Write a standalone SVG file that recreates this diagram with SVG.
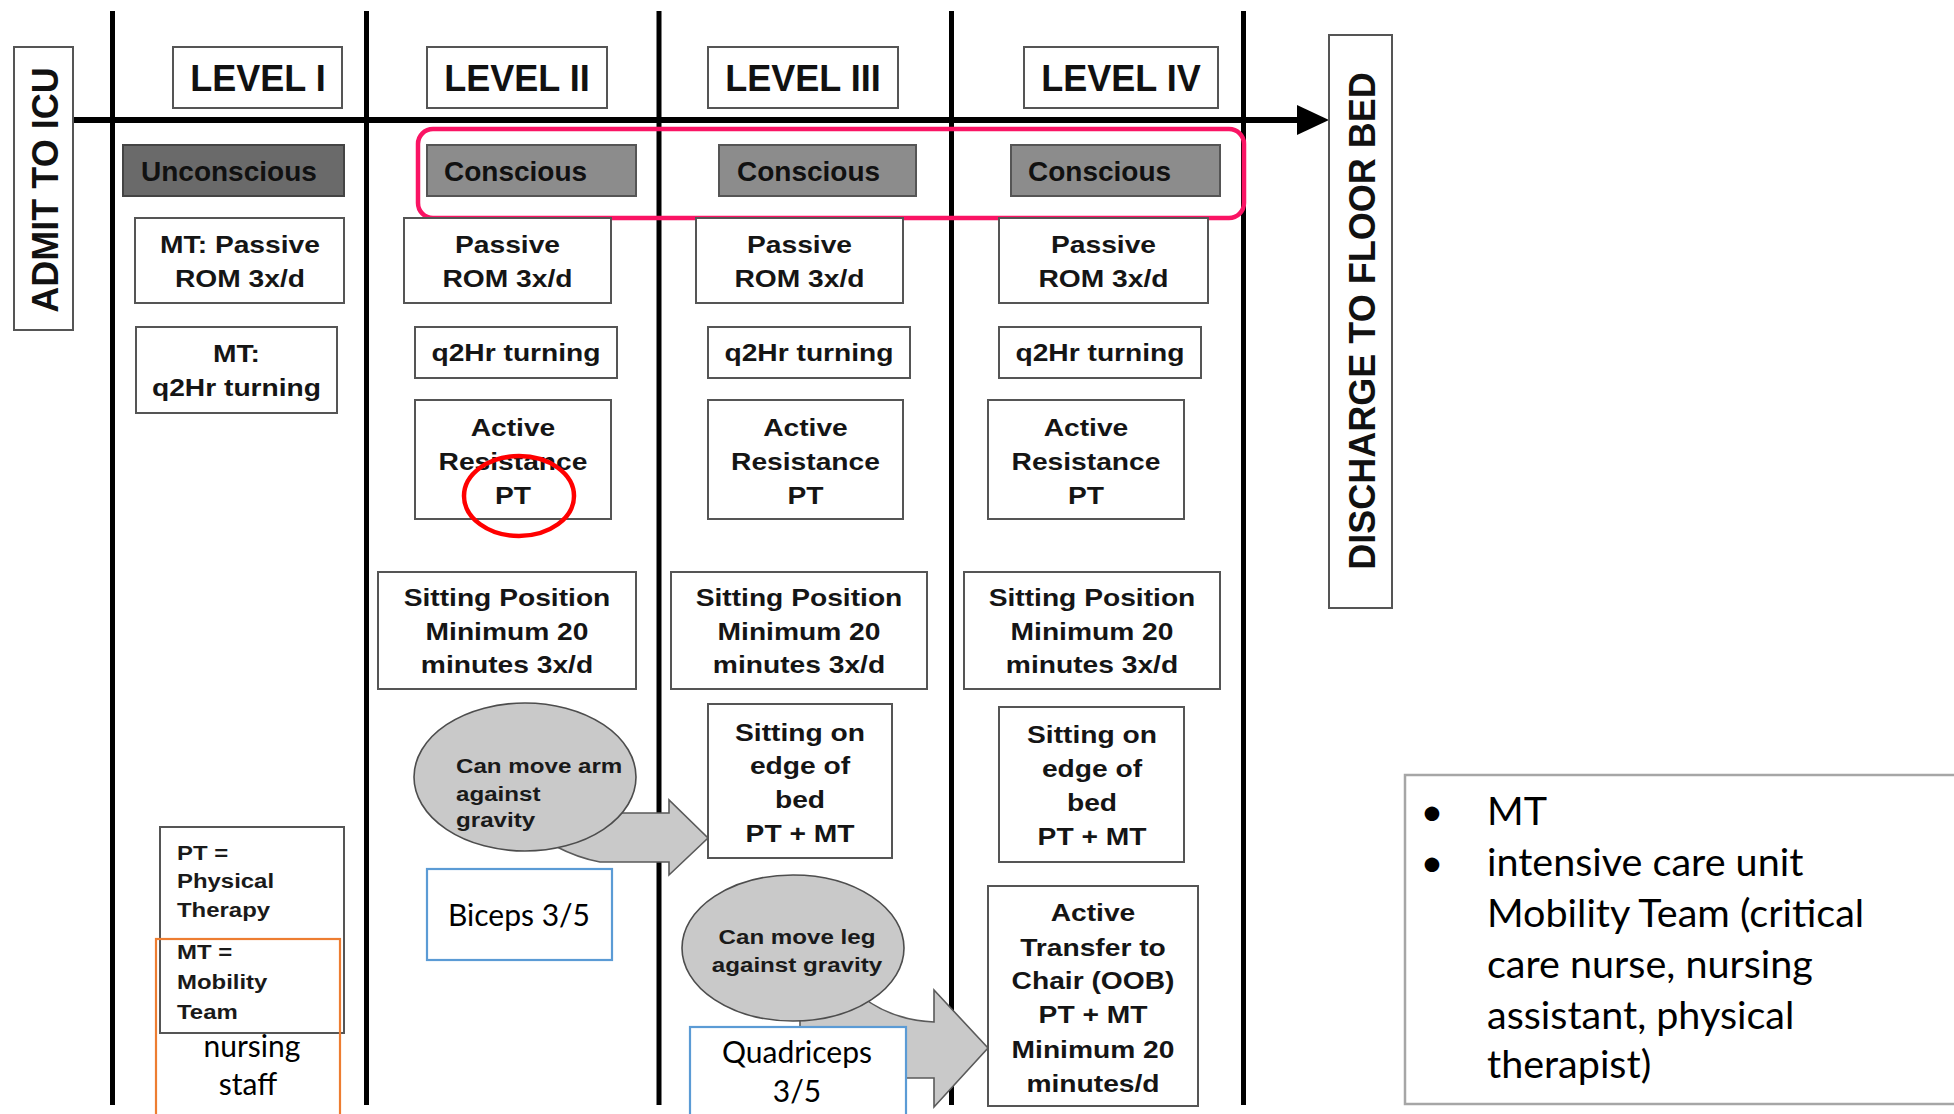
<svg xmlns="http://www.w3.org/2000/svg" width="1954" height="1114" viewBox="0 0 1954 1114">
<defs>
<style>
.bx{fill:#fff;stroke:#555;stroke-width:2}
.st1{fill:#6a6a6a;stroke:#444;stroke-width:2}
.st2{fill:#8c8c8c;stroke:#555;stroke-width:2}
.ov{fill:#c9c9c9;stroke:#4d4d4d;stroke-width:1.6}
.ar{fill:#c9c9c9;stroke:#5a5a5a;stroke-width:1.6}
.vl{stroke:#000;stroke-width:5}
.blue{fill:#fff;stroke:#5b9bd5;stroke-width:2.2}
.t{font-family:"Liberation Sans",Arial,sans-serif;font-weight:bold;font-size:23.5px;fill:#151515;text-anchor:middle}
.big{font-family:"Liberation Sans",Arial,sans-serif;font-weight:bold;font-size:36px;fill:#111;text-anchor:middle}
.sttx{font-family:"Liberation Sans",Arial,sans-serif;font-weight:bold;font-size:28px;fill:#111}
.sm{font-family:"Liberation Sans",Arial,sans-serif;font-weight:bold;font-size:21px;fill:#1a1a1a}
.cal{font-family:Lato,"Open Sans",sans-serif;font-size:30px;fill:#000;text-anchor:middle}
.rb{font-family:Lato,"Open Sans",sans-serif;font-size:39.5px;fill:#000}
</style>
</defs>
<rect width="1954" height="1114" fill="#fff"/>

<g id="lanes">
<line class="vl" x1="112.5" y1="11" x2="112.5" y2="1105"/>
<line class="vl" x1="366.5" y1="11" x2="366.5" y2="1105"/>
<line class="vl" x1="659" y1="11" x2="659" y2="1105"/>
<line class="vl" x1="951.5" y1="11" x2="951.5" y2="1105"/>
<line class="vl" x1="1243.5" y1="11" x2="1243.5" y2="1105"/>
</g>

<g id="connectors">
<line x1="74" y1="120" x2="1300" y2="120" stroke="#000" stroke-width="6"/>
<polygon points="1297,105 1329,120 1297,135" fill="#000"/>
<path class="ar" d="M 600 813 L 669 813 L 669 800 L 708 838 L 669 875 L 669 862 L 600 862 Q 578 858 555 846 Z"/>
<path class="ar" d="M 800 995 L 860 995 Q 890 1020 934 1022 L 934 990 L 988 1048 L 934 1107 L 934 1078 L 800 1078 Z"/>
</g>

<g id="admit">
<rect class="bx" x="14" y="47" width="59" height="283"/>
<text class="big" transform="translate(58 190) rotate(-90)" x="0" y="0">ADMIT TO ICU</text>
</g>
<g id="discharge">
<rect class="bx" x="1329" y="35" width="63" height="573"/>
<text class="big" transform="translate(1375 321) rotate(-90)" x="0" y="0">DISCHARGE TO FLOOR BED</text>
</g>

<g id="level1"><rect class="bx" x="173" y="47" width="169" height="61"/><text class="big" x="258" y="91">LEVEL I</text></g>
<g id="level2"><rect class="bx" x="427" y="47" width="180" height="61"/><text class="big" x="517" y="91">LEVEL II</text></g>
<g id="level3"><rect class="bx" x="708" y="47" width="190" height="61"/><text class="big" x="803" y="91">LEVEL III</text></g>
<g id="level4"><rect class="bx" x="1024" y="47" width="194" height="61"/><text class="big" x="1121" y="91">LEVEL IV</text></g>

<g id="unconscious"><rect class="st1" x="123" y="145" width="221" height="51"/><text class="sttx" x="141" y="181">Unconscious</text></g>
<g id="conscious2"><rect class="st2" x="427" y="145" width="209" height="51"/><text class="sttx" x="444" y="181">Conscious</text></g>
<g id="conscious3"><rect class="st2" x="719" y="145" width="197" height="51"/><text class="sttx" x="737" y="181">Conscious</text></g>
<g id="conscious4"><rect class="st2" x="1011" y="145" width="209" height="51"/><text class="sttx" x="1028" y="181">Conscious</text></g>
<g id="conscious-highlight"><rect x="418" y="129" width="826" height="89" rx="15" fill="none" stroke="#fa1464" stroke-width="4.5"/></g>

<g id="passive1"><rect class="bx" x="135" y="218" width="209" height="85"/>
<g transform="matrix(1.2 0 0 1 240 0)"><text class="t" x="0" y="253">MT: Passive</text><text class="t" x="0" y="287">ROM 3x/d</text></g></g>
<g id="passive2"><rect class="bx" x="404" y="218" width="207" height="85"/>
<g transform="matrix(1.2 0 0 1 507.5 0)"><text class="t" x="0" y="253">Passive</text><text class="t" x="0" y="287">ROM 3x/d</text></g></g>
<g id="passive3"><rect class="bx" x="696" y="218" width="207" height="85"/>
<g transform="matrix(1.2 0 0 1 799.5 0)"><text class="t" x="0" y="253">Passive</text><text class="t" x="0" y="287">ROM 3x/d</text></g></g>
<g id="passive4"><rect class="bx" x="999" y="218" width="209" height="85"/>
<g transform="matrix(1.2 0 0 1 1103.5 0)"><text class="t" x="0" y="253">Passive</text><text class="t" x="0" y="287">ROM 3x/d</text></g></g>

<g id="turning1"><rect class="bx" x="136" y="327" width="201" height="86"/>
<g transform="matrix(1.2 0 0 1 236.5 0)"><text class="t" x="0" y="362">MT:</text><text class="t" x="0" y="396">q2Hr turning</text></g></g>
<g id="turning2"><rect class="bx" x="415" y="327" width="202" height="51"/>
<g transform="matrix(1.2 0 0 1 516 0)"><text class="t" x="0" y="361">q2Hr turning</text></g></g>
<g id="turning3"><rect class="bx" x="708" y="327" width="202" height="51"/>
<g transform="matrix(1.2 0 0 1 809 0)"><text class="t" x="0" y="361">q2Hr turning</text></g></g>
<g id="turning4"><rect class="bx" x="999" y="327" width="202" height="51"/>
<g transform="matrix(1.2 0 0 1 1100 0)"><text class="t" x="0" y="361">q2Hr turning</text></g></g>

<g id="active2"><rect class="bx" x="415" y="400" width="196" height="119"/>
<g transform="matrix(1.2 0 0 1 513 0)"><text class="t" x="0" y="436">Active</text><text class="t" x="0" y="470">Resistance</text><text class="t" x="0" y="504">PT</text></g></g>
<g id="active3"><rect class="bx" x="708" y="400" width="195" height="119"/>
<g transform="matrix(1.2 0 0 1 805.5 0)"><text class="t" x="0" y="436">Active</text><text class="t" x="0" y="470">Resistance</text><text class="t" x="0" y="504">PT</text></g></g>
<g id="active4"><rect class="bx" x="988" y="400" width="196" height="119"/>
<g transform="matrix(1.2 0 0 1 1086 0)"><text class="t" x="0" y="436">Active</text><text class="t" x="0" y="470">Resistance</text><text class="t" x="0" y="504">PT</text></g></g>
<g id="pt-highlight"><ellipse cx="519" cy="496" rx="55" ry="40" fill="none" stroke="#f00" stroke-width="4.5"/></g>

<g id="sitting2"><rect class="bx" x="378" y="572" width="258" height="117"/>
<g transform="matrix(1.2 0 0 1 507 0)"><text class="t" x="0" y="606">Sitting Position</text><text class="t" x="0" y="640">Minimum 20</text><text class="t" x="0" y="673">minutes 3x/d</text></g></g>
<g id="sitting3"><rect class="bx" x="671" y="572" width="256" height="117"/>
<g transform="matrix(1.2 0 0 1 799 0)"><text class="t" x="0" y="606">Sitting Position</text><text class="t" x="0" y="640">Minimum 20</text><text class="t" x="0" y="673">minutes 3x/d</text></g></g>
<g id="sitting4"><rect class="bx" x="964" y="572" width="256" height="117"/>
<g transform="matrix(1.2 0 0 1 1092 0)"><text class="t" x="0" y="606">Sitting Position</text><text class="t" x="0" y="640">Minimum 20</text><text class="t" x="0" y="673">minutes 3x/d</text></g></g>

<g id="arm"><ellipse class="ov" cx="525" cy="777" rx="111" ry="74"/>
<g transform="matrix(1.15 0 0 1 456 0)"><text class="sm" x="0" y="773">Can move arm</text><text class="sm" x="0" y="801">against</text><text class="sm" x="0" y="827">gravity</text></g></g>

<g id="edge3"><rect class="bx" x="708" y="704" width="184" height="154"/>
<g transform="matrix(1.2 0 0 1 800 0)"><text class="t" x="0" y="741">Sitting on</text><text class="t" x="0" y="774">edge of</text><text class="t" x="0" y="808">bed</text><text class="t" x="0" y="842">PT + MT</text></g></g>
<g id="edge4"><rect class="bx" x="999" y="707" width="185" height="155"/>
<g transform="matrix(1.2 0 0 1 1092 0)"><text class="t" x="0" y="743">Sitting on</text><text class="t" x="0" y="777">edge of</text><text class="t" x="0" y="811">bed</text><text class="t" x="0" y="845">PT + MT</text></g></g>

<g id="biceps"><rect class="blue" x="427" y="869" width="185" height="91"/><text class="cal" x="519" y="926">Biceps 3/5</text></g>

<g id="leg"><ellipse class="ov" cx="793" cy="948" rx="111" ry="73"/>
<g transform="matrix(1.15 0 0 1 797 0)"><text class="sm" x="0" y="944" text-anchor="middle">Can move leg</text><text class="sm" x="0" y="972" text-anchor="middle">against gravity</text></g></g>

<g id="quadriceps"><rect class="blue" x="690" y="1027" width="216" height="100"/><text class="cal" x="797" y="1063">Quadriceps</text><text class="cal" x="797" y="1102">3/5</text></g>

<g id="transfer4"><rect class="bx" x="988" y="886" width="210" height="220"/>
<g transform="matrix(1.2 0 0 1 1093 0)"><text class="t" x="0" y="921">Active</text><text class="t" x="0" y="956">Transfer to</text><text class="t" x="0" y="989">Chair (OOB)</text><text class="t" x="0" y="1023">PT + MT</text><text class="t" x="0" y="1058">Minimum 20</text><text class="t" x="0" y="1092">minutes/d</text></g></g>

<g id="legend"><rect class="bx" x="160" y="827" width="184" height="206"/>
<g transform="matrix(1.14 0 0 1 177 0)"><text class="sm" x="0" y="860">PT =</text><text class="sm" x="0" y="888">Physical</text><text class="sm" x="0" y="917">Therapy</text><text class="sm" x="0" y="959">MT =</text><text class="sm" x="0" y="989">Mobility</text><text class="sm" x="0" y="1019">Team</text></g></g>
<g id="nursing"><rect x="156" y="939" width="184" height="190" fill="none" stroke="#ed7d31" stroke-width="2.2"/><text class="cal" x="252" y="1057">nursing</text><text class="cal" x="248" y="1095">staff</text></g>

<g id="note"><rect x="1405" y="775" width="560" height="329" fill="#fff" stroke="#a6a6a6" stroke-width="2.5"/>
<text class="rb" x="1432" y="825" text-anchor="middle" font-size="32">•</text><text class="rb" x="1432" y="876" text-anchor="middle" font-size="32">•</text>
<text class="rb" x="1487" y="825">MT</text>
<text class="rb" x="1487" y="876">intensive care unit</text>
<text class="rb" x="1487" y="927">Mobility Team (critical</text>
<text class="rb" x="1487" y="978">care nurse, nursing</text>
<text class="rb" x="1487" y="1029">assistant, physical</text>
<text class="rb" x="1487" y="1078">therapist)</text>
</g>
</svg>
